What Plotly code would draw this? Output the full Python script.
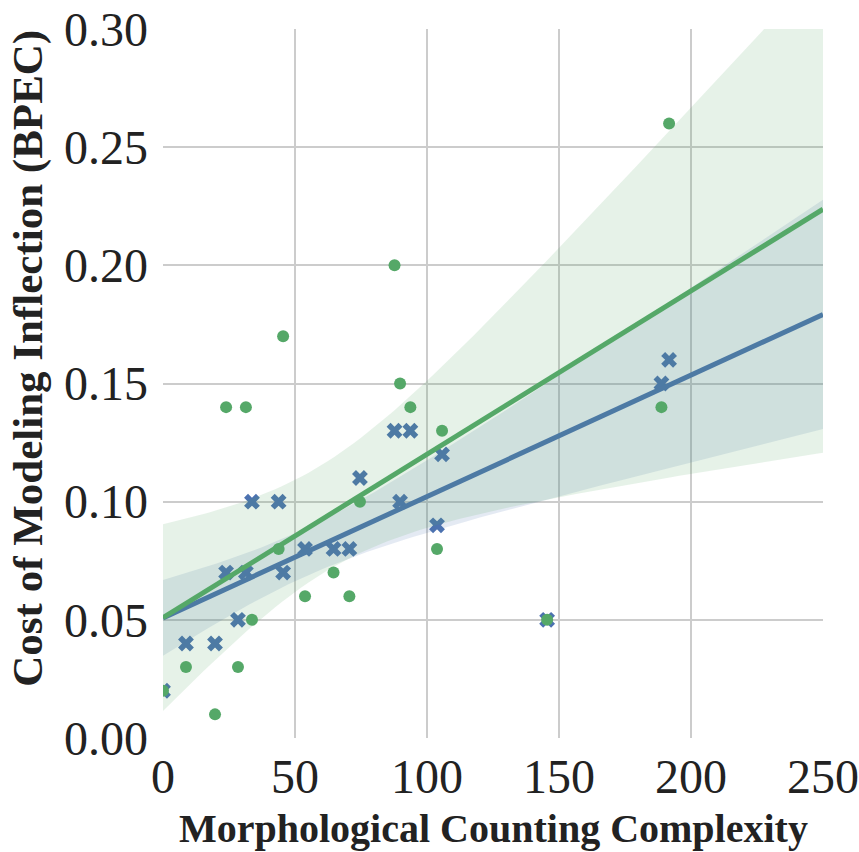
import numpy as np
import plotly.graph_objects as go

# Morphological counting complexity per language (shared by both series)
mcc = [0, 8.7, 19.7, 23.9, 28.4, 31.4, 33.7, 43.8, 45.5, 53.8, 64.6,
       70.6, 74.6, 87.7, 89.8, 93.7, 103.8, 105.7, 145.5, 188.8, 191.7]
# Green series (circles)
cost_green = [0.02, 0.03, 0.01, 0.14, 0.03, 0.14, 0.05, 0.08, 0.17, 0.06, 0.07,
              0.06, 0.10, 0.20, 0.15, 0.14, 0.08, 0.13, 0.05, 0.14, 0.26]
# Blue series (crosses)
cost_blue = [0.02, 0.04, 0.04, 0.07, 0.05, 0.07, 0.10, 0.10, 0.07, 0.08, 0.08,
             0.08, 0.11, 0.13, 0.10, 0.13, 0.09, 0.12, 0.05, 0.15, 0.16]

x_ticks = [0, 50, 100, 150, 200, 250]
y_ticks = [0.00, 0.05, 0.10, 0.15, 0.20, 0.25, 0.30]

BLUE = "#4C72B0"
GREEN = "#55A868"
FONT = "Liberation Serif"
TEXT = "#222222"
T975 = 2.093  # t quantile, df = n-2 = 19


def fit_band(x, y, grid):
    """OLS fit with a 95% band from a robust (HC0) covariance,
    the large-sample analogue of a pairs bootstrap."""
    x = np.asarray(x, float)
    y = np.asarray(y, float)
    X = np.column_stack([np.ones_like(x), x])
    XtX_inv = np.linalg.inv(X.T @ X)
    beta = XtX_inv @ X.T @ y
    resid = y - X @ beta
    w = resid ** 2
    cov = XtX_inv @ (X.T * w) @ X @ XtX_inv
    G = np.column_stack([np.ones_like(grid), grid])
    pred = G @ beta
    se = np.sqrt(np.sum((G @ cov) * G, axis=1))
    return pred, pred - T975 * se, pred + T975 * se


grid = np.linspace(x_ticks[0], x_ticks[-1], 101)

fig = go.Figure()


def add_series(y, color, rgba, symbol, size):
    pred, lo, hi = fit_band(mcc, y, grid)
    fig.add_trace(go.Scatter(x=np.concatenate([grid, grid[::-1]]),
                             y=np.concatenate([hi, lo[::-1]]),
                             fill="toself", fillcolor=rgba, mode="lines",
                             line=dict(width=0), hoverinfo="skip",
                             showlegend=False))
    fig.add_trace(go.Scatter(x=mcc, y=y, mode="markers",
                             marker=dict(symbol=symbol, size=size, color=color,
                                         line=dict(width=0)),
                             showlegend=False))
    fig.add_trace(go.Scatter(x=grid, y=pred, mode="lines",
                             line=dict(color=color, width=5),
                             showlegend=False))


add_series(cost_blue, BLUE, "rgba(76,114,176,0.15)", "x", 14)
add_series(cost_green, GREEN, "rgba(85,168,104,0.15)", "circle", 12)

fig.update_layout(
    width=859, height=852,
    margin=dict(l=163, r=36, t=29, b=114),
    paper_bgcolor="white", plot_bgcolor="white",
    font=dict(family=FONT, color=TEXT),
    xaxis=dict(range=[x_ticks[0], x_ticks[-1]], tickvals=x_ticks,
               ticktext=[str(v) for v in x_ticks], automargin=False,
               showgrid=True, gridcolor="#cccccc", gridwidth=2,
               zeroline=False, showline=False, ticks="",
               ticklabelstandoff=6,
               tickfont=dict(size=48, family=FONT)),
    yaxis=dict(range=[y_ticks[0], y_ticks[-1]], tickvals=y_ticks,
               ticktext=["%.2f" % v for v in y_ticks], automargin=False,
               showgrid=True, gridcolor="#cccccc", gridwidth=2,
               zeroline=False, showline=False, ticks="",
               ticklabelstandoff=14,
               tickfont=dict(size=48, family=FONT)),
    annotations=[
        dict(text="<b>Morphological Counting Complexity</b>",
             xref="paper", yref="paper", x=0.5, y=-0.128,
             xanchor="center", yanchor="middle", showarrow=False,
             font=dict(size=40, family=FONT, color=TEXT)),
        dict(text="<b>Cost of Modeling Inflection (BPEC)</b>",
             xref="paper", yref="paper", x=-0.2045, y=0.535,
             xanchor="center", yanchor="middle", showarrow=False,
             textangle=-90,
             font=dict(size=43, family=FONT, color=TEXT)),
    ],
)

fig.write_html("out.html")
